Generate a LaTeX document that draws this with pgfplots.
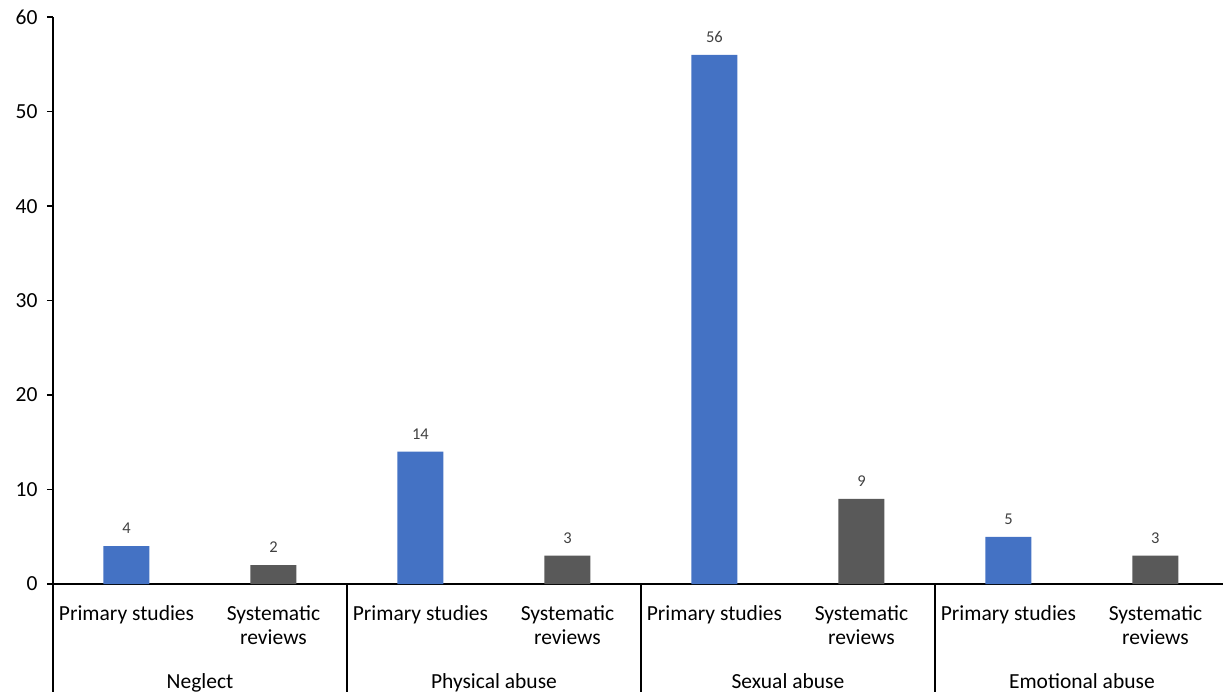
\documentclass[border=0pt]{standalone}
\usepackage{pgfplots}
\pgfplotsset{compat=1.18}
\usepackage{fontspec}
\setmainfont{Carlito}
\definecolor{barblue}{HTML}{4472C4}
\definecolor{bargray}{HTML}{595959}
\definecolor{lblgray}{HTML}{404040}
\definecolor{axtext}{HTML}{000000}

\begin{document}
\begin{tikzpicture}
\useasboundingbox (0,0) rectangle (1223pt,691pt);
\clip (0,0) rectangle (1223pt,691pt);
\begin{axis}[
  at={(53pt,107pt)}, anchor=south west,
  scale only axis, width=1176pt, height=566.8pt,
  xmin=-0.5, xmax=7.5, ymin=0, ymax=60,
  axis lines=left,
  axis line style={-, line width=1.6pt, black},
  /pgf/number format/assume math mode=true,
  ytick={0,10,20,30,40,50,60},
  tick align=outside,
  major tick length=6pt,
  y tick style={line width=1.6pt, black},
  x tick style={draw=none},
  xtick={0,1,2,3,4,5,6,7},
  xticklabels={Primary studies,{Systematic\\reviews},Primary studies,{Systematic\\reviews},Primary studies,{Systematic\\reviews},Primary studies,{Systematic\\reviews}},
  xticklabel style={align=center, anchor=north, yshift=-12pt, font=\fontsize{21.5}{24}\selectfont, text=axtext},
  yticklabel style={font=\fontsize{21.5}{25}\selectfont, text=axtext, xshift=-6pt},
  ybar, bar width=46pt, bar shift=0pt,
  nodes near coords,
  nodes near coords style={font=\fontsize{16.5}{19}\selectfont, text=lblgray, yshift=9pt},
  clip=false,
]
\addplot[fill=barblue, draw=none] coordinates {(0,4) (2,14) (4,56) (6,5)};
\addplot[fill=bargray, draw=none] coordinates {(1,2) (3,3) (5,9) (7,3)};
\draw[line width=1.6pt, black] (axis cs:-0.5,0) -- ([yshift=-120pt]axis cs:-0.5,0);
\draw[line width=1.6pt, black] (axis cs:1.5,0) -- ([yshift=-120pt]axis cs:1.5,0);
\draw[line width=1.6pt, black] (axis cs:3.5,0) -- ([yshift=-120pt]axis cs:3.5,0);
\draw[line width=1.6pt, black] (axis cs:5.5,0) -- ([yshift=-120pt]axis cs:5.5,0);
\draw[line width=1.6pt, black] (axis cs:7.5,0) -- ([yshift=-120pt]axis cs:7.5,0);
\node[anchor=base, font=\fontsize{21.5}{25}\selectfont, text=axtext] at ([yshift=-104pt]axis cs:0.5,0) {Neglect};
\node[anchor=base, font=\fontsize{21.5}{25}\selectfont, text=axtext] at ([yshift=-104pt]axis cs:2.5,0) {Physical abuse};
\node[anchor=base, font=\fontsize{21.5}{25}\selectfont, text=axtext] at ([yshift=-104pt]axis cs:4.5,0) {Sexual abuse};
\node[anchor=base, font=\fontsize{21.5}{25}\selectfont, text=axtext] at ([yshift=-104pt]axis cs:6.5,0) {Emotional abuse};
\end{axis}
\end{tikzpicture}
\end{document}
